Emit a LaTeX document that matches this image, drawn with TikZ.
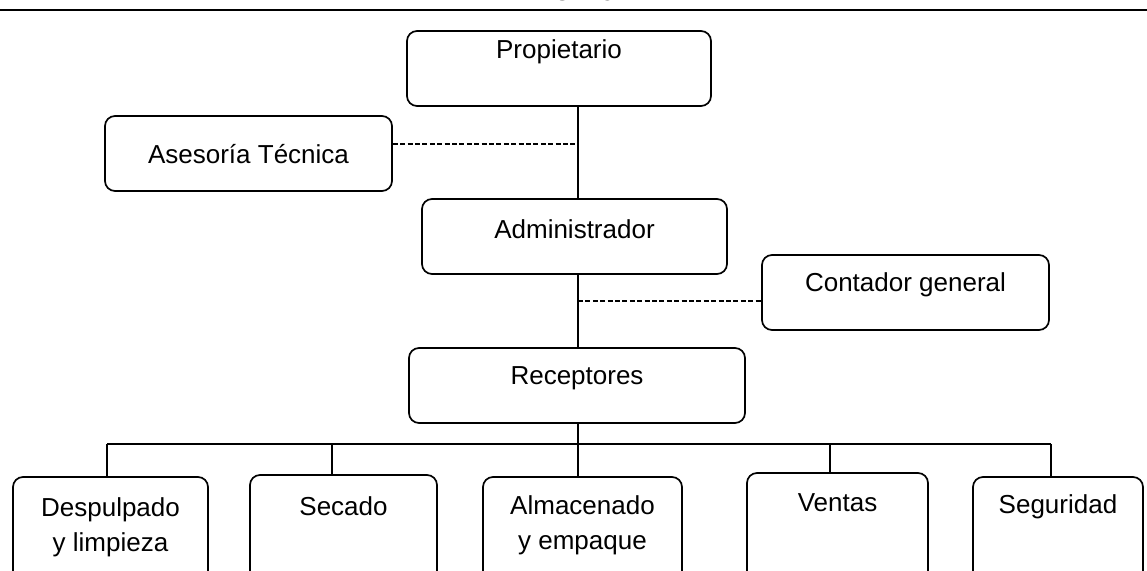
\documentclass[tikz,border=0pt]{standalone}
\usepackage{fontspec}
\setmainfont{Liberation Sans}
\usetikzlibrary{positioning}

\begin{document}
\begin{tikzpicture}[
    x=0.5pt, y=-0.5pt,
    font=\fontsize{13}{17.5}\selectfont,
    orgbox/.style={draw, line width=0.85pt, rounded corners=5pt, minimum height=37.5pt, inner sep=0pt},
    lowbox/.style={orgbox, minimum height=62.5pt},
    boxtext/.style={anchor=center, align=center, inner sep=0pt},
    link/.style={line width=0.85pt},
    dashlink/.style={line width=0.85pt, dash pattern=on 2.5pt off 1.2pt}
  ]
  \useasboundingbox (0,0) rectangle (1147,571);

  % title (mostly cut off) and rule
  \node[font=\bfseries\fontsize{16}{19}\selectfont, anchor=base, inner sep=0pt] (titulo) at (581,1) {Año 2012};
  \draw[line width=1pt] (0,10) -- (1147,10);

  % upper levels
  \node[orgbox, minimum width=152pt, label={[boxtext, yshift=-11pt]north:Propietario}] (prop) at (559,68.5) {};
  \node[orgbox, minimum width=143.5pt, label={[boxtext, yshift=-19.5pt]north:Asesoría Técnica}] (ases) at (248.5,153.5) {};
  \node[orgbox, minimum width=152.5pt, label={[boxtext, yshift=-15.5pt]north:Administrador}] (admin) at (574.5,236.5) {};
  \node[orgbox, minimum width=143.5pt, label={[boxtext, yshift=-15.5pt]north:Contador general}] (cont) at (905.5,292.5) {};
  \node[orgbox, minimum width=168pt, label={[boxtext, yshift=-15.5pt]north:Receptores}] (recep) at (577,385.5) {};

  % areas
  \node[lowbox, minimum width=97.5pt, label={[boxtext, yshift=-25.5pt]north:Despulpado\\y limpieza}] (desp) at (110.5,539.5) {};
  \node[lowbox, minimum width=93.5pt, label={[boxtext, yshift=-16pt]north:Secado}] (sec) at (343.5,537.5) {};
  \node[lowbox, minimum width=99.5pt, label={[boxtext, yshift=-24.75pt]north:Almacenado\\y empaque}] (alm) at (582.5,539.5) {};
  \node[lowbox, minimum width=90.5pt, label={[boxtext, yshift=-15.5pt]north:Ventas}] (ven) at (837.5,535.5) {};
  \node[lowbox, minimum width=85pt, label={[boxtext, yshift=-15.5pt]north:Seguridad}] (seg) at (1058,539.5) {};

  \coordinate (trunk) at (578,0);
  \coordinate (ases-tap) at (578,144);
  \coordinate (cont-tap) at (578,301);
  \coordinate (desp-in) at (107,444);
  \coordinate (sec-in) at (332,444);
  \coordinate (ven-in) at (830,444);
  \coordinate (seg-in) at (1051,444);

  \draw[link] (prop.south -| trunk) -- (admin.north -| trunk);
  \draw[link] (admin.south -| trunk) -- (recep.north -| trunk);
  \draw[link] (recep.south -| trunk) -- (alm.north -| trunk);
  \draw[dashlink] (ases.east |- ases-tap) -- (ases-tap);
  \draw[dashlink] (cont-tap) -- (cont-tap -| cont.west);

  \draw[link] (desp-in) -- (seg-in);
  \foreach \n in {desp,sec,ven,seg}
    \draw[link] (\n-in) -- (\n-in |- \n.north);
\end{tikzpicture}
\end{document}
